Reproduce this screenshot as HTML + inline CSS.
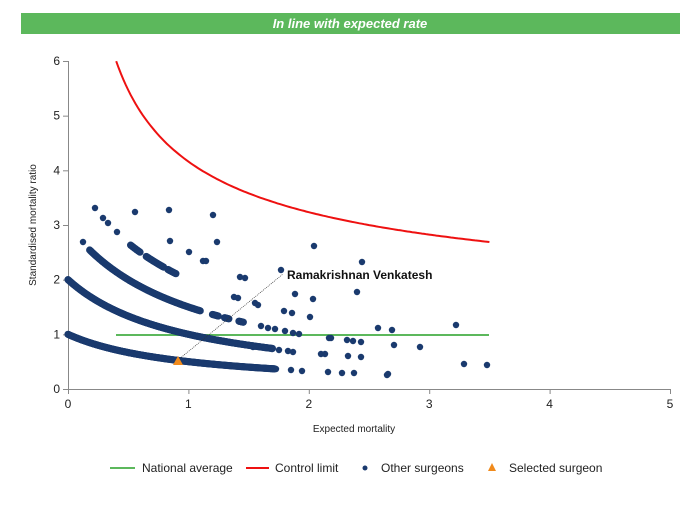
<!DOCTYPE html>
<html><head><meta charset="utf-8"><style>
body{margin:0;background:#fff;width:700px;height:500px;overflow:hidden;font-family:"Liberation Sans",sans-serif}
</style></head><body>
<svg id="s" width="700" height="500" xmlns="http://www.w3.org/2000/svg" font-family="Liberation Sans, sans-serif">
<rect x="21" y="13" width="659" height="21" fill="#5cb85c"/>
<text x="350" y="28" text-anchor="middle" fill="#fff" font-size="13" font-weight="bold" font-style="italic">In line with expected rate</text>
<g stroke="#888" stroke-width="1">
<line x1="68.5" y1="61" x2="68.5" y2="390"/>
<line x1="68" y1="389.5" x2="670" y2="389.5"/>
</g>
<g id="ticks" stroke="#888"></g>
<g font-size="12" fill="#222" text-anchor="end" id="yl"></g>
<g font-size="12" fill="#222" text-anchor="middle" id="xl"></g>
<text x="354" y="432" font-size="10" text-anchor="middle" fill="#222">Expected mortality</text>
<text transform="translate(36,225) rotate(-90)" font-size="10" text-anchor="middle" fill="#222">Standardised mortality ratio</text>
<line x1="116" y1="335" x2="489" y2="335" stroke="#5cb85c" stroke-width="2"/>
<path id="cl" fill="none" stroke="#ee1111" stroke-width="2"/>
<g id="dots" fill="#1a3a6e"></g>
<line x1="178" y1="360" x2="283" y2="274" stroke="#333" stroke-width="0.7" stroke-dasharray="1,1"/>
<polygon points="178,356 183,365 173,365" fill="#f08a1c"/>
<text x="287" y="279" font-size="12" font-weight="bold" fill="#111">Ramakrishnan Venkatesh</text>
<line x1="110" y1="468" x2="135" y2="468" stroke="#5cb85c" stroke-width="2"/>
<text x="142" y="472" font-size="12" fill="#222">National average</text>
<line x1="246" y1="468" x2="269" y2="468" stroke="#ee1111" stroke-width="2"/>
<text x="275" y="472" font-size="12" fill="#222">Control limit</text>
<circle cx="365" cy="468" r="2.5" fill="#1a3a6e"/>
<text x="381" y="472" font-size="12" fill="#222">Other surgeons</text>
<polygon points="492,463 496,471 488,471" fill="#f08a1c"/>
<text x="509" y="472" font-size="12" fill="#222">Selected surgeon</text>
</svg>
<script>
var NS="http://www.w3.org/2000/svg";
function X(e){return 68+e*120.4}function Y(v){return 389-v*54.67}
function el(p,t,a,txt){var e=document.createElementNS(NS,t);for(var k in a)e.setAttribute(k,a[k]);if(txt!==undefined)e.textContent=txt;document.getElementById(p).appendChild(e);}
for(var i=0;i<=6;i++){el("yl","text",{x:60,y:Y(i)+4},i);el("ticks","line",{x1:63,x2:68,y1:Y(i)+.5,y2:Y(i)+.5});}
for(var i=0;i<=5;i++){el("xl","text",{x:X(i),y:408},i);el("ticks","line",{x1:X(i)+.5,x2:X(i)+.5,y1:389,y2:394});}
var d="";for(var e=0.4;e<=3.5001;e+=0.02){d+=(d?"L":"M")+X(e).toFixed(1)+","+Y(1+3.16/Math.sqrt(e)).toFixed(1);}
document.getElementById("cl").setAttribute("d",d);
function dot(x,y,r){el("dots","circle",{cx:x,cy:y,r:r||3.2});}
function curve(k,a,b,r){for(var e=a;e<=b;e+=0.006)dot(X(e),Y(k/(e+1)),r||3.6);}
curve(1,0,1.72);curve(2,0,1.7);curve(3,0.18,1.1);
curve(3,1.2,1.25);curve(3,1.3,1.34);curve(3,1.42,1.46);
curve(4,0.52,0.6);curve(4,0.65,0.8);curve(4,0.83,0.9);
var p=[[95,208],[103,218],[108,223],[117,232],[135,212],[169,210],[213,215],[83,242],[170,241],[217,242],[189,252],[203,261],[206,261],[314,246],[362,262],[281,270],[240,277],[245,278],[357,292],[295,294],[313,299],[234,297],[238,298],[255,303],[258,305],[284,311],[292,313],[310,317],[378,328],[392,330],[456,325],[261,326],[268,328],[275,329],[285,331],[293,333],[299,334],[329,338],[331,338],[347,340],[353,341],[361,342],[394,345],[420,347],[253,347],[265,348],[272,349],[279,350],[288,351],[293,352],[321,354],[325,354],[348,356],[361,357],[464,364],[487,365],[276,369],[291,370],[302,371],[328,372],[342,373],[354,373],[388,374],[387,375]];
p.forEach(function(q){dot(q[0],q[1]);});
</script>
</body></html>
